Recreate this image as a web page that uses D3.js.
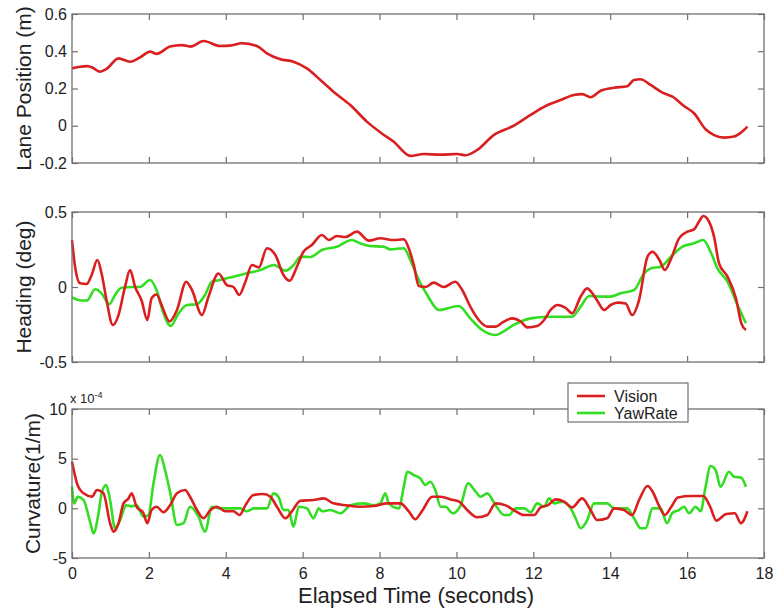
<!DOCTYPE html>
<html>
<head>
<meta charset="utf-8">
<script src="https://d3js.org/d3.v7.min.js"></script>
<style>
body { margin: 0; padding: 0; background: white; }
svg text { font-family: "Liberation Sans", Arial, Helvetica, sans-serif; fill: #222; }
</style>
</head>
<body>
<svg id="chart" width="774" height="611"></svg>
<script>
// data: [seconds, value]
var laneVision = [
[0,0.308],[0.21,0.317],[0.4,0.32],[0.55,0.31],[0.73,0.29],[0.9,0.305],[1.21,0.362],[1.51,0.344],
[1.77,0.367],[2.03,0.398],[2.2,0.386],[2.55,0.425],[2.86,0.433],[3.08,0.425],[3.42,0.455],[3.85,0.428],
[4.11,0.43],[4.42,0.443],[4.81,0.428],[5.07,0.389],[5.42,0.357],[5.76,0.344],[6.11,0.308],[6.46,0.246],
[6.8,0.183],[7.24,0.111],[7.67,0.022],[8.05,-0.04],[8.37,-0.086],[8.8,-0.162],[9.15,-0.152],[9.59,-0.155],
[10.02,-0.152],[10.24,-0.158],[10.54,-0.13],[10.97,-0.05],[11.49,0.0],[11.93,0.058],[12.32,0.106],
[12.71,0.138],[13.05,0.165],[13.27,0.17],[13.49,0.153],[13.75,0.188],[14.1,0.204],[14.44,0.212],
[14.62,0.246],[14.79,0.25],[15.05,0.219],[15.36,0.178],[15.62,0.156],[15.92,0.106],[16.18,0.067],
[16.48,-0.019],[16.7,-0.05],[16.96,-0.064],[17.22,-0.058],[17.4,-0.037],[17.57,-0.005]
];

var headVision = [
[0,0.313],[0.08,0.135],[0.21,0.025],[0.38,0.02],[0.51,0.08],[0.66,0.18],[0.77,0.09],[0.9,-0.09],
[1.06,-0.253],[1.21,-0.187],[1.38,0.002],[1.51,0.113],[1.64,0.002],[1.81,-0.09],[1.96,-0.22],[2.07,-0.075],
[2.2,-0.05],[2.33,-0.12],[2.54,-0.23],[2.73,-0.153],[2.97,0.035],[3.12,-0.02],[3.38,-0.187],[3.55,-0.065],
[3.81,0.09],[4.03,0.013],[4.2,0.0],[4.35,-0.053],[4.51,0.035],[4.68,0.147],[4.86,0.13],[5.07,0.258],
[5.29,0.213],[5.5,0.08],[5.66,0.042],[5.85,0.135],[6.02,0.235],[6.24,0.28],[6.5,0.347],[6.68,0.313],
[6.89,0.34],[7.11,0.333],[7.41,0.369],[7.72,0.309],[8.02,0.325],[8.37,0.313],[8.63,0.318],[8.76,0.258],
[8.89,0.147],[9.02,0.007],[9.2,0.0],[9.41,0.029],[9.67,0.0],[9.97,0.035],[10.15,-0.02],[10.36,-0.131],
[10.58,-0.22],[10.8,-0.264],[11.02,-0.264],[11.19,-0.238],[11.45,-0.209],[11.67,-0.23],[11.84,-0.269],
[12.1,-0.26],[12.28,-0.22],[12.45,-0.153],[12.63,-0.12],[12.84,-0.14],[13.01,-0.176],[13.23,-0.065],
[13.4,-0.009],[13.53,-0.04],[13.66,-0.09],[13.84,-0.153],[14.01,-0.12],[14.19,-0.104],[14.4,-0.11],
[14.57,-0.187],[14.75,-0.087],[14.97,0.202],[15.1,0.235],[15.28,0.18],[15.42,0.113],[15.57,0.18],
[15.79,0.324],[16.01,0.369],[16.18,0.384],[16.31,0.436],[16.42,0.473],[16.57,0.436],[16.7,0.336],
[16.83,0.158],[17.05,0.069],[17.27,-0.075],[17.41,-0.242],[17.53,-0.287]
];

var headYawRate = [
[0,-0.069],[0.25,-0.09],[0.39,-0.09],[0.6,-0.015],[0.77,-0.042],[0.97,-0.115],[1.12,-0.053],[1.29,-0.005],
[1.6,0.0],[1.77,0.0],[2.03,0.047],[2.2,-0.02],[2.38,-0.176],[2.57,-0.26],[2.77,-0.176],[2.99,-0.12],
[3.25,-0.115],[3.46,-0.053],[3.64,0.035],[3.85,0.047],[4.2,0.069],[4.55,0.091],[4.9,0.113],[5.25,0.147],
[5.55,0.109],[5.77,0.147],[5.94,0.202],[6.2,0.2],[6.5,0.247],[6.89,0.269],[7.28,0.313],[7.5,0.29],
[7.76,0.273],[8.1,0.269],[8.28,0.251],[8.63,0.258],[8.8,0.18],[9.02,0.047],[9.24,-0.053],[9.54,-0.153],
[10.06,-0.127],[10.36,-0.209],[10.67,-0.287],[11.02,-0.32],[11.28,-0.287],[11.49,-0.253],[11.93,-0.209],
[12.37,-0.198],[13.01,-0.198],[13.23,-0.131],[13.45,-0.06],[13.75,-0.064],[14.01,-0.064],[14.27,-0.042],
[14.62,-0.02],[14.88,0.091],[15.05,0.124],[15.31,0.135],[15.62,0.213],[15.88,0.269],[16.18,0.291],
[16.42,0.313],[16.61,0.235],[16.79,0.124],[17.05,0.035],[17.31,-0.12],[17.53,-0.242]
];

// curvature in units of 1e-4 1/m
var curvVision = [
[0,4.69],[0.13,2.52],[0.3,1.51],[0.52,1.18],[0.65,1.84],[0.82,1.5],[0.99,-1.5],[1.08,-2.35],[1.21,-1.5],
[1.34,0.5],[1.47,1.0],[1.55,1.51],[1.68,0.16],[1.86,-0.5],[1.96,-1.5],[2.07,-0.17],[2.2,0.16],[2.38,-0.4],
[2.55,0.3],[2.73,1.51],[2.94,1.84],[3.07,1.17],[3.25,-0.17],[3.42,-1.0],[3.6,-0.17],[3.77,0.16],[3.99,-0.3],
[4.2,-0.3],[4.36,-0.67],[4.51,0.3],[4.72,1.34],[4.98,1.44],[5.16,1.17],[5.33,0.16],[5.55,-1.0],[5.72,-0.3],
[5.94,0.77],[6.28,0.84],[6.55,1.0],[6.8,0.5],[7.15,0.3],[7.5,0.16],[7.85,0.23],[8.2,0.5],[8.54,0.5],
[8.76,-0.3],[8.93,-1.1],[9.1,-0.3],[9.37,1.17],[9.59,1.17],[9.85,0.9],[10.07,0.67],[10.28,-0.17],
[10.54,-0.9],[10.8,-0.67],[11.02,0.5],[11.28,0.3],[11.49,-0.17],[11.76,-0.67],[12.02,-0.67],[12.19,0.1],
[12.37,0.3],[12.58,0.9],[12.8,0.67],[13.01,0.1],[13.27,1.0],[13.49,-0.17],[13.66,-1.18],[13.92,-1.0],
[14.1,0.0],[14.36,-0.17],[14.57,-0.67],[14.75,0.84],[14.97,2.25],[15.1,1.7],[15.28,0.16],[15.42,-0.67],
[15.59,0.16],[15.76,1.1],[16.11,1.24],[16.42,1.24],[16.6,0.16],[16.76,-1.24],[17.02,-0.57],[17.24,-0.5],
[17.4,-1.5],[17.57,-0.3]
];

var curvYawRate = [
[0,2.18],[0.06,0.5],[0.15,1.17],[0.3,0.84],[0.48,-1.5],[0.56,-2.52],[0.69,-0.5],[0.77,1.51],[0.89,2.35],
[0.99,0.84],[1.12,-2.01],[1.25,-1.2],[1.41,0.3],[1.55,0.2],[1.68,0.3],[1.86,-0.84],[1.99,-0.67],[2.12,2.52],
[2.29,5.37],[2.42,3.86],[2.55,1.68],[2.73,-1.68],[2.9,-1.5],[3.07,0.16],[3.29,-0.84],[3.46,-2.35],
[3.64,0.16],[3.85,0.0],[4.2,0.0],[4.38,0.0],[4.55,-0.3],[4.72,0.0],[5.07,0.0],[5.24,1.51],[5.37,1.17],
[5.5,-0.17],[5.63,-0.17],[5.76,-1.85],[5.9,0.16],[6.11,0.0],[6.28,-1.0],[6.42,0.0],[6.5,-0.3],[6.72,-0.17],
[6.98,-0.5],[7.24,0.3],[7.59,0.5],[7.85,0.3],[8.02,0.5],[8.15,1.51],[8.24,0.5],[8.5,0.0],[8.63,2.18],
[8.72,3.69],[8.89,3.35],[9.06,3.02],[9.19,2.35],[9.32,2.68],[9.45,1.84],[9.59,0.16],[9.72,0.16],
[9.9,-0.5],[10.11,0.3],[10.3,2.52],[10.5,1.68],[10.63,1.17],[10.8,1.51],[11.02,0.3],[11.24,-0.67],
[11.37,-0.67],[11.54,0.0],[11.76,0.0],[11.93,-0.4],[12.1,0.5],[12.28,0.16],[12.41,1.0],[12.54,0.5],
[12.75,0.67],[12.97,0.0],[13.1,-1.0],[13.23,-2.01],[13.4,-1.2],[13.58,0.5],[13.92,0.5],[14.1,0.0],
[14.44,0.0],[14.62,-1.0],[14.79,-2.0],[14.92,-2.0],[15.1,0.0],[15.31,0.0],[15.48,-1.5],[15.61,-0.5],
[15.79,-0.17],[15.92,0.16],[16.05,-0.5],[16.22,0.16],[16.35,-0.3],[16.48,2.18],[16.61,4.26],[16.74,3.86],
[16.87,2.18],[17.09,3.69],[17.22,3.19],[17.4,3.1],[17.53,2.18]
];

var xTicks = [0, 2, 4, 6, 8, 10, 12, 14, 16, 18];
var laneTicks = [-0.2, 0, 0.2, 0.4, 0.6];
var headTicks = [-0.5, 0, 0.5];
var curvTicks = [-5, 0, 5, 10];
var seriesNames = ["Vision", "YawRate"];

var red = "#d91f1f", green = "#33dd22", axisColor = "#707070";

var svg = d3.select("#chart");
svg.append("rect").attr("width", 774).attr("height", 611).attr("fill", "white");

var x = d3.scaleLinear().domain([0, 18]).range([72, 764]);

var panels = [
  {top: 14,  bottom: 163, domain: [-0.2, 0.6], ticks: laneTicks, label: "Lane Position (m)", labelX: 31,
   lines: [[laneVision, red]]},
  {top: 212, bottom: 362, domain: [-0.5, 0.5], ticks: headTicks, label: "Heading (deg)", labelX: 31,
   lines: [[headYawRate, green], [headVision, red]]},
  {top: 409, bottom: 558, domain: [-5, 10], ticks: curvTicks, label: "Curvature(1/m)", labelX: 40,
   lines: [[curvYawRate, green], [curvVision, red]], showX: true}
];

panels.forEach(function(p) {
  var y = d3.scaleLinear().domain(p.domain).range([p.bottom, p.top]);
  var g = svg.append("g");

  var line = d3.line().curve(d3.curveMonotoneX)
    .x(function(d) { return x(d[0]); }).y(function(d) { return y(d[1]); });
  p.lines.forEach(function(l) {
    g.append("path").datum(l[0])
      .attr("d", line)
      .attr("fill", "none")
      .attr("stroke", l[1])
      .attr("stroke-width", 2.6)
      .attr("stroke-linejoin", "round");
  });

  // axes with inward ticks, all four sides
  var fmt = function(d) { return d; };
  var left = g.append("g").attr("transform", "translate(" + x.range()[0] + ",0)")
    .call(d3.axisLeft(y).tickValues(p.ticks).tickSize(-6).tickPadding(5).tickFormat(fmt));
  var right = g.append("g").attr("transform", "translate(" + x.range()[1] + ",0)")
    .call(d3.axisRight(y).tickValues(p.ticks).tickSize(-6).tickFormat(""));
  var topAx = g.append("g").attr("transform", "translate(0," + p.top + ")")
    .call(d3.axisTop(x).tickValues(xTicks).tickSize(-6).tickFormat(""));
  var bot = g.append("g").attr("transform", "translate(0," + p.bottom + ")")
    .call(d3.axisBottom(x).tickValues(xTicks).tickSize(-6).tickPadding(10)
      .tickFormat(p.showX ? fmt : ""));

  [left, right, topAx, bot].forEach(function(a) {
    a.select(".domain").remove();
    a.selectAll("line").attr("stroke", axisColor).attr("stroke-width", 1.2);
    a.selectAll("text").attr("font-size", 16).attr("fill", "#222")
      .attr("font-family", "Liberation Sans, Arial, sans-serif");
  });

  g.append("rect")
    .attr("x", x.range()[0]).attr("y", p.top)
    .attr("width", x.range()[1] - x.range()[0]).attr("height", p.bottom - p.top)
    .attr("fill", "none").attr("stroke", axisColor).attr("stroke-width", 1.3);

  g.append("text")
    .attr("transform", "translate(" + p.labelX + "," + ((p.top + p.bottom) / 2) + ") rotate(-90)")
    .attr("text-anchor", "middle")
    .attr("font-size", 21)
    .text(p.label);
});

// exponent label
var ex = svg.append("text").attr("x", 70).attr("y", 403).attr("font-size", 13);
ex.append("tspan").text("x 10");
ex.append("tspan").attr("dy", -5).attr("font-size", 9).text("-4");

// x axis title
svg.append("text")
  .attr("x", 416).attr("y", 603)
  .attr("text-anchor", "middle")
  .attr("font-size", 22)
  .text("Elapsed Time (seconds)");

// legend
var lg = svg.append("g");
lg.append("rect").attr("x", 568).attr("y", 383).attr("width", 120).attr("height", 39)
  .attr("fill", "white").attr("stroke", axisColor).attr("stroke-width", 1.2);
[red, green].forEach(function(c, i) {
  var yy = 396 + i * 17;
  lg.append("line").attr("x1", 577).attr("x2", 605).attr("y1", yy).attr("y2", yy)
    .attr("stroke", c).attr("stroke-width", 2.6);
  lg.append("text").attr("x", 614).attr("y", yy).attr("dy", "0.35em")
    .attr("font-size", 16).text(seriesNames[i]);
});
</script>
</body>
</html>
